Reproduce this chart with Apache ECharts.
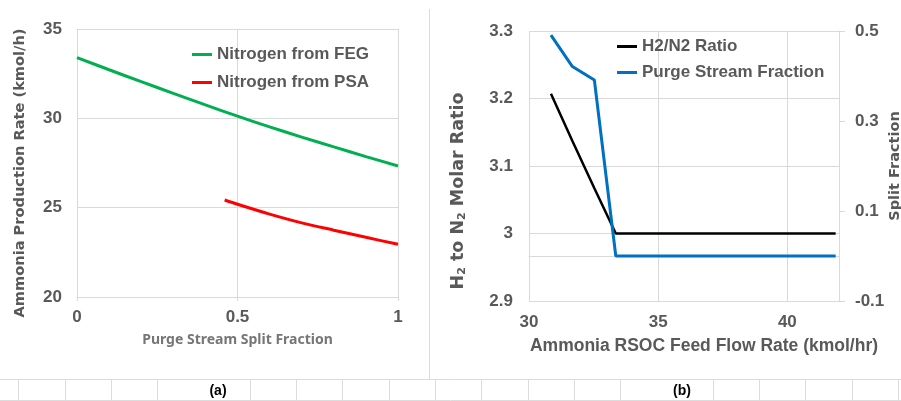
<!DOCTYPE html>
<html>
<head>
<meta charset="utf-8">
<script src="https://cdn.jsdelivr.net/npm/echarts@6/dist/echarts.min.js"></script>
<style>
  html, body, #main { margin: 0; width: 901px; height: 401px; background: #fff; }
</style>
</head>
<body>
<div id="main"></div>
<script>
// (a) ammonia production vs purge stream split fraction
const splitFrac = [0, 0.1, 0.2, 0.3, 0.4, 0.5, 0.6, 0.7, 0.8, 0.9, 1];
const n2FromFeg = [33.4, 32.72, 32.05, 31.4, 30.75, 30.12, 29.52, 28.95, 28.4, 27.86, 27.33];
const psaFrac = [0.46, 0.5, 0.6, 0.7, 0.8, 0.9, 1];
const n2FromPsa = [25.43, 25.19, 24.64, 24.15, 23.74, 23.34, 22.95];

// (b) H2/N2 ratio and purge fraction vs RSOC feed flow
const rsocFlow = [30.85, 31.68, 32.53, 33.36, 41.87];
const h2n2Ratio = [3.207, 3.137, 3.067, 3.0, 3.0];
const purgeFrac = [0.491, 0.421, 0.391, 0.0, 0.0];

const FONT = '"Liberation Sans", Arial, sans-serif';
const WIDE = '"DejaVu Sans", sans-serif';
const GREY = '#595959';
const GRID_LINE = '#d9d9d9';

function pairs(xs, ys) {
  return xs.map((x, i) => [x, ys[i]]);
}

const labelStyle = { color: GREY, fontFamily: FONT, fontWeight: 'bold', fontSize: 17 };

// spreadsheet cell lines under the charts
const cellLines = [
  { type: 'line', shape: { x1: 0, y1: 379.5, x2: 901, y2: 379.5 }, style: { stroke: '#dcdcdc', lineWidth: 1 } },
  { type: 'line', shape: { x1: 0, y1: 400.5, x2: 901, y2: 400.5 }, style: { stroke: '#dcdcdc', lineWidth: 1 } },
  { type: 'line', shape: { x1: 429.5, y1: 9, x2: 429.5, y2: 380 }, style: { stroke: '#dcdcdc', lineWidth: 1 } }
];
for (let k = 0; k < 20; k++) {
  if (k === 4 || k === 14) continue;
  const x = Math.round(18.3 + 46.3 * k) + 0.5;
  cellLines.push({ type: 'line', shape: { x1: x, y1: 380, x2: x, y2: 401 }, style: { stroke: '#dcdcdc', lineWidth: 1 } });
}

var chart = echarts.init(document.getElementById('main'));

var option = {
  animation: false,
  textStyle: { fontFamily: FONT },
  grid: [
    { left: 77, top: 29, width: 321, height: 268, outerBoundsMode: 'none' },
    { left: 529, top: 31, width: 310, height: 270, outerBoundsMode: 'none' }
  ],
  legend: [
    {
      orient: 'vertical', left: 192, top: 46, padding: 0, icon: 'rect', itemWidth: 20, itemHeight: 3, itemGap: 11,
      textStyle: labelStyle,
      data: ['Nitrogen from FEG', 'Nitrogen from PSA']
    },
    {
      orient: 'vertical', left: 617, top: 38, padding: 0, icon: 'rect', itemWidth: 20, itemHeight: 3, itemGap: 9,
      textStyle: labelStyle,
      data: ['H2/N2 Ratio', 'Purge Stream Fraction']
    }
  ],
  xAxis: [
    {
      type: 'value', gridIndex: 0, min: 0, max: 1, interval: 0.5,
      name: 'Purge Stream Split Fraction', nameLocation: 'middle', nameGap: 36,
      nameTextStyle: { color: '#767676', fontFamily: '"Noto Sans", sans-serif', fontWeight: 'bold', fontSize: 14 },
      axisLine: { show: true, lineStyle: { color: GRID_LINE } },
      axisTick: { show: true, length: 4, lineStyle: { color: GRID_LINE } },
      axisLabel: Object.assign({ margin: 12 }, labelStyle),
      splitLine: { show: true, lineStyle: { color: GRID_LINE } }
    },
    {
      type: 'value', gridIndex: 1, min: 30, max: 42, interval: 5,
      name: 'Ammonia RSOC Feed Flow Rate (kmol/hr)', nameLocation: 'middle', nameGap: 36,
      nameTextStyle: Object.assign({}, labelStyle, { fontSize: 17.5, padding: [0, 0, 0, 40] }),
      axisLine: { show: true, lineStyle: { color: GRID_LINE } },
      axisTick: { show: false },
      axisLabel: Object.assign({ margin: 13, showMaxLabel: false }, labelStyle),
      splitLine: { show: true, lineStyle: { color: GRID_LINE } }
    }
  ],
  yAxis: [
    {
      type: 'value', gridIndex: 0, min: 20, max: 35, interval: 5,
      name: 'Ammonia Production Rate (kmol/h)', nameLocation: 'middle', nameGap: 49, nameRotate: 90,
      nameTextStyle: { color: GREY, fontFamily: WIDE, fontWeight: 'bold', fontSize: 14.6, padding: [0, 20, 0, 0] },
      axisLine: { show: false },
      axisTick: { show: false },
      axisLabel: Object.assign({ margin: 15 }, labelStyle),
      splitLine: { show: true, lineStyle: { color: GRID_LINE } }
    },
    {
      type: 'value', gridIndex: 1, min: 2.9, max: 3.3, interval: 0.1,
      name: 'H{s|2} to N{s|2} Molar Ratio', nameLocation: 'middle', nameGap: 61, nameRotate: 90,
      nameTextStyle: {
        color: GREY, fontFamily: WIDE, fontWeight: 'bold', fontSize: 17.5,
        padding: [0, 50, 0, 0],
        rich: { s: { color: GREY, fontFamily: WIDE, fontWeight: 'bold', fontSize: 11, verticalAlign: 'bottom', padding: [9, 0, 0, 0] } }
      },
      axisLine: { show: false },
      axisTick: { show: false },
      axisLabel: Object.assign({ margin: 16 }, labelStyle),
      splitLine: { show: true, lineStyle: { color: GRID_LINE } }
    },
    {
      type: 'value', gridIndex: 1, position: 'right', min: -0.1, max: 0.5, interval: 0.2,
      name: 'Split Fraction', nameLocation: 'middle', nameGap: 47, nameRotate: 90,
      nameTextStyle: { color: GREY, fontFamily: WIDE, fontWeight: 'bold', fontSize: 14.5 },
      axisLine: { show: true, lineStyle: { color: GRID_LINE } },
      axisTick: { show: true, length: 6, lineStyle: { color: GRID_LINE } },
      axisLabel: Object.assign({ margin: 16 }, labelStyle),
      splitLine: { show: false }
    }
  ],
  series: [
    {
      name: 'Nitrogen from FEG', type: 'line', xAxisIndex: 0, yAxisIndex: 0,
      symbol: 'none', smooth: 0.3, color: '#00b050', lineStyle: { width: 3 },
      data: pairs(splitFrac, n2FromFeg)
    },
    {
      name: 'Nitrogen from PSA', type: 'line', xAxisIndex: 0, yAxisIndex: 0,
      symbol: 'none', smooth: 0.3, color: '#ff0000', lineStyle: { width: 3 },
      data: pairs(psaFrac, n2FromPsa)
    },
    {
      name: 'H2/N2 Ratio', type: 'line', xAxisIndex: 1, yAxisIndex: 1,
      symbol: 'none', color: '#000000', lineStyle: { width: 2.5 },
      data: pairs(rsocFlow, h2n2Ratio)
    },
    {
      name: 'Purge Stream Fraction', type: 'line', xAxisIndex: 1, yAxisIndex: 2,
      symbol: 'none', color: '#0070c0', lineStyle: { width: 3 },
      data: pairs(rsocFlow, purgeFrac)
    }
  ],
  graphic: cellLines.concat([
    { type: 'text', x: 218, y: 391, style: { text: '(a)', font: 'bold 14px ' + FONT, fill: '#000', align: 'center', verticalAlign: 'middle' } },
    { type: 'text', x: 682, y: 391, style: { text: '(b)', font: 'bold 14px ' + FONT, fill: '#000', align: 'center', verticalAlign: 'middle' } }
  ])
};

chart.setOption(option);
</script>
</body>
</html>
